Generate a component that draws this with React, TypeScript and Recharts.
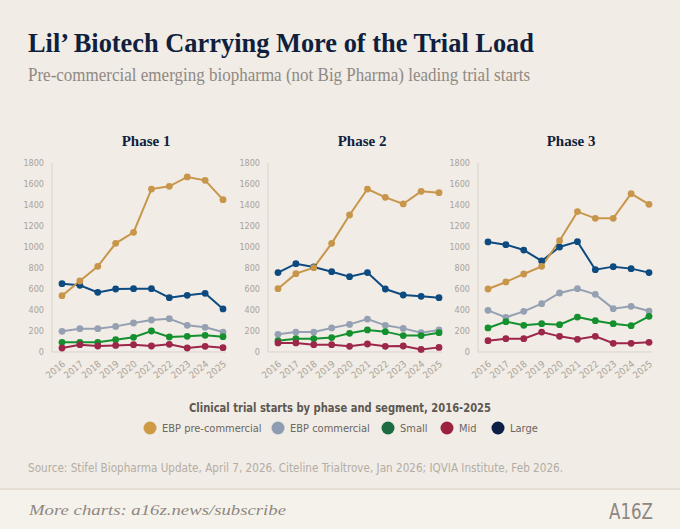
import * as React from "react";
import { CartesianGrid, Line, LineChart, XAxis, YAxis } from "recharts";

const years = ["2016", "2017", "2018", "2019", "2020", "2021", "2022", "2023", "2024", "2025"];
const yTicks = [0, 200, 400, 600, 800, 1000, 1200, 1400, 1600, 1800];

const segments = ["EBP pre-commercial", "EBP commercial", "Small", "Mid", "Large"];
const segmentColors = ["#c8964b", "#95a1b3", "#14902e", "#9c2748", "#0d4a80"];
const legendColors = ["#cf9a45", "#8f9db3", "#1e6b41", "#9c2240", "#0e1f45"];

// phase 1
const p1Pre = [536, 676, 816, 1035, 1140, 1552, 1578, 1667, 1635, 1451];
const p1Com = [197, 222, 222, 244, 276, 305, 317, 254, 235, 190];
const p1Small = [92, 92, 92, 117, 140, 200, 143, 149, 159, 146];
const p1Mid = [38, 70, 57, 63, 70, 57, 73, 38, 54, 41];
const p1Large = [651, 635, 568, 600, 603, 603, 517, 540, 559, 410];

// phase 2
const p2Pre = [603, 746, 803, 1035, 1305, 1552, 1473, 1410, 1530, 1517];
const p2Com = [168, 190, 190, 229, 263, 314, 254, 225, 184, 210];
const p2Small = [108, 127, 127, 137, 178, 210, 194, 156, 156, 184];
const p2Mid = [86, 86, 70, 70, 54, 76, 54, 57, 25, 44];
const p2Large = [756, 841, 810, 765, 717, 756, 600, 543, 530, 517];

// phase 3
const p3Pre = [600, 667, 743, 816, 1060, 1337, 1273, 1273, 1508, 1406];
const p3Com = [397, 330, 387, 460, 562, 603, 549, 413, 435, 390];
const p3Small = [229, 289, 254, 270, 260, 333, 298, 270, 251, 340];
const p3Mid = [108, 127, 127, 190, 149, 121, 149, 83, 83, 92];
const p3Large = [1048, 1022, 971, 867, 1000, 1051, 784, 813, 794, 756];

const phases = [
  { title: "Phase 1", series: [p1Pre, p1Com, p1Small, p1Mid, p1Large], left: 0, titleX: 146 },
  { title: "Phase 2", series: [p2Pre, p2Com, p2Small, p2Mid, p2Large], left: 216, titleX: 362 },
  { title: "Phase 3", series: [p3Pre, p3Com, p3Small, p3Mid, p3Large], left: 426, titleX: 571 },
];

const legendX = [150, 278, 388, 447, 498];

const serif = "'Liberation Serif', 'DejaVu Serif', serif";
const sans = "'DejaVu Sans Condensed', 'Liberation Sans', sans-serif";
const axisColor = "#d9d3cb";
const tickColor = "#a9a39c";

function RotatedTick(props: any) {
  const { x, y, payload } = props;
  return (
    <text
      x={x + 4}
      y={y + 5}
      transform={`rotate(-40 ${x + 4} ${y + 5})`}
      textAnchor="end"
      fontSize={9.5}
      fontFamily={sans}
      fill={tickColor}
    >
      {payload.value}
    </text>
  );
}

function PhaseChart({ series }: { series: number[][] }) {
  const data = years.map((year, i) => {
    const row: Record<string, string | number> = { year };
    segments.forEach((s, k) => (row[s] = series[k][i]));
    return row;
  });
  // Large first so the gold line sits above it like the reference
  const drawOrder = [4, 1, 2, 3, 0];
  return (
    <LineChart width={230} height={240} data={data} margin={{ top: 13, right: 4, bottom: 2, left: 0 }}>
      <CartesianGrid stroke="none" />
      <XAxis
        dataKey="year"
        interval={0}
        padding={{ left: 10, right: 3 }}
        axisLine={{ stroke: axisColor }}
        tickLine={false}
        tick={<RotatedTick />}
        height={36}
      />
      <YAxis
        domain={[0, 1800]}
        ticks={yTicks}
        interval={0}
        width={52}
        axisLine={{ stroke: axisColor }}
        tickLine={false}
        tick={{ fill: tickColor, fontSize: 9, fontFamily: sans }}
      />
      {drawOrder.map((k) => (
        <Line
          key={segments[k]}
          dataKey={segments[k]}
          stroke={segmentColors[k]}
          strokeWidth={2}
          dot={{ r: 3.4, fill: segmentColors[k], stroke: segmentColors[k], strokeWidth: 0 }}
          isAnimationActive={false}
        />
      ))}
    </LineChart>
  );
}

export default function App() {
  return (
    <div
      style={{
        position: "absolute",
        left: 0,
        top: 0,
        width: 680,
        height: 529,
        background: "#f1ece5",
        overflow: "hidden",
      }}
    >
      <svg width={680} height={529} style={{ position: "absolute", left: 0, top: 0 }}>
        <rect x={0} y={489} width={680} height={40} fill="#f5f2ec" />
        <line x1={0} x2={680} y1={489} y2={489} stroke="#e4ded4" strokeWidth={2} />
        <text
          x={28}
          y={52}
          fontFamily={serif}
          fontWeight={700}
          fontSize={28}
          fill="#0f1f3d"
          textLength={506}
          lengthAdjust="spacingAndGlyphs"
        >
          Lil’ Biotech Carrying More of the Trial Load
        </text>
        <text
          x={28}
          y={81}
          fontFamily={serif}
          fontSize={18}
          fill="#8f8983"
          textLength={502}
          lengthAdjust="spacingAndGlyphs"
        >
          Pre-commercial emerging biopharma (not Big Pharma) leading trial starts
        </text>
        {phases.map((p) => (
          <text
            key={p.title}
            x={p.titleX}
            y={146}
            textAnchor="middle"
            fontFamily={serif}
            fontWeight={700}
            fontSize={15}
            fill="#0f1f3d"
          >
            {p.title}
          </text>
        ))}
        <text
          x={340}
          y={412}
          textAnchor="middle"
          fontFamily={sans}
          fontWeight={700}
          fontSize={12}
          fill="#5d5852"
          textLength={302}
          lengthAdjust="spacingAndGlyphs"
        >
          Clinical trial starts by phase and segment, 2016-2025
        </text>
        {segments.map((s, k) => (
          <g key={s}>
            <circle cx={legendX[k]} cy={428} r={6.5} fill={legendColors[k]} />
            <text x={legendX[k] + 12} y={432} fontFamily={sans} fontSize={11} fill="#6b6660">
              {s}
            </text>
          </g>
        ))}
        <text
          x={28}
          y={472}
          fontFamily={sans}
          fontSize={11.5}
          fill="#b3ada6"
          textLength={535}
          lengthAdjust="spacingAndGlyphs"
        >
          Source: Stifel Biopharma Update, April 7, 2026. Citeline Trialtrove, Jan 2026; IQVIA Institute, Feb 2026.
        </text>
        <text
          x={29}
          y={515}
          fontFamily={serif}
          fontStyle="italic"
          fontSize={15}
          fill="#8e8780"
          textLength={257}
          lengthAdjust="spacingAndGlyphs"
        >
          More charts: a16z.news/subscribe
        </text>
        <text
          x={609}
          y={519}
          fontFamily={sans}
          fontSize={22}
          fill="#8e8780"
          textLength={44}
          lengthAdjust="spacingAndGlyphs"
        >
          A16Z
        </text>
      </svg>
      {phases.map((p) => (
        <div key={p.title} style={{ position: "absolute", left: p.left, top: 150 }}>
          <PhaseChart series={p.series} />
        </div>
      ))}
    </div>
  );
}
